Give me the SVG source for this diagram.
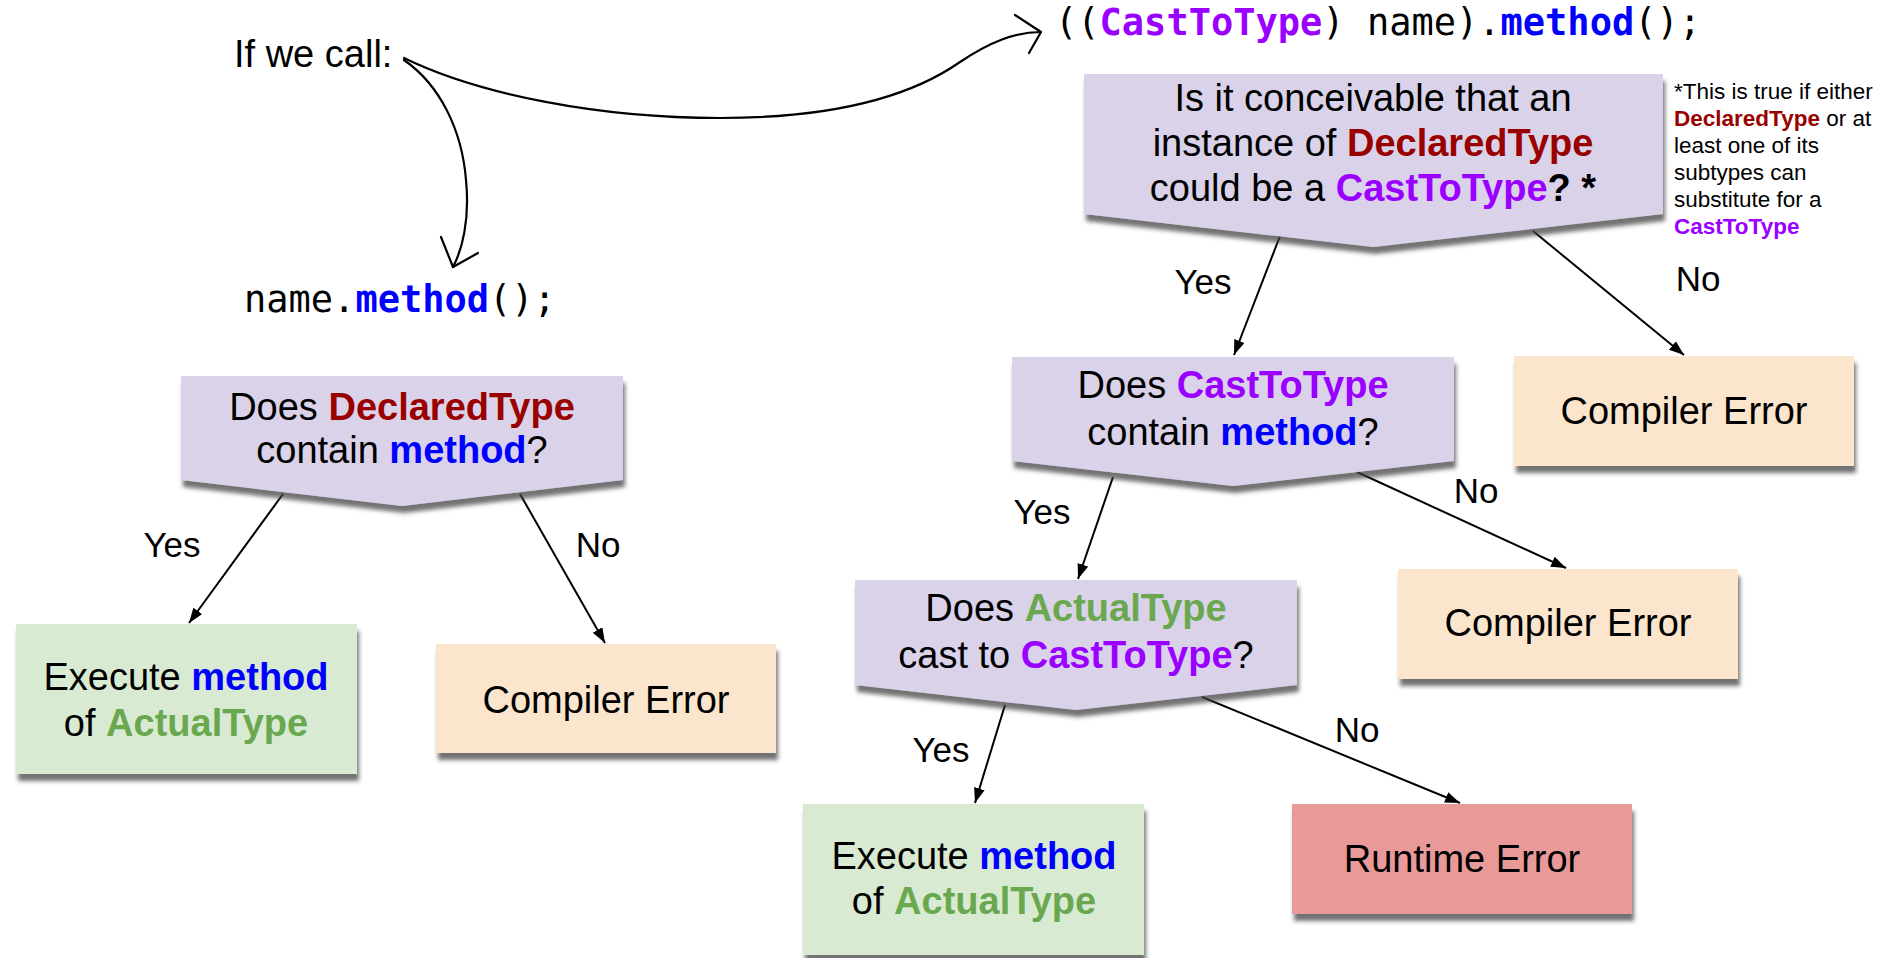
<svg xmlns="http://www.w3.org/2000/svg" width="1883" height="958" viewBox="0 0 1883 958">
<style>
text{font-family:"Liberation Sans",Arial,sans-serif;fill:#000}
.t{font-size:38px}
.lbl{font-size:35px}
.note{font-size:22.5px}
.code{font-family:"DejaVu Sans Mono","Liberation Mono",monospace;font-size:37px}
.dt{fill:#990000;font-weight:bold}
.ct{fill:#9900ff;font-weight:bold}
.me{fill:#0000ff;font-weight:bold}
.at{fill:#6aa84f;font-weight:bold}
.b{font-weight:bold}
.cct{fill:#9900ff;font-weight:bold}
.cme{fill:#0000ff;font-weight:bold}
.dec{fill:#d9d2e9}
.grn{fill:#d9ead3}
.org{fill:#fce5cd}
.red{fill:#ea9999}
.conn line{stroke:#000;stroke-width:2;marker-end:url(#ah)}
.hand{fill:none;stroke:#000;stroke-width:2.2;stroke-linecap:round;stroke-linejoin:round}
</style>
<defs>
<filter id="sh" x="-5%" y="-5%" width="115%" height="125%">
<feGaussianBlur in="SourceAlpha" stdDeviation="2"/>
<feOffset dx="2" dy="7" result="o"/>
<feFlood flood-color="#444" flood-opacity="0.75"/>
<feComposite in2="o" operator="in"/>
<feMerge><feMergeNode/><feMergeNode in="SourceGraphic"/></feMerge>
</filter>
<marker id="ah" markerUnits="userSpaceOnUse" markerWidth="16" markerHeight="12" refX="15" refY="5.5" orient="auto">
<path d="M0,0 L15,5.5 L0,11 z" fill="#000"/>
</marker>
</defs>
<rect width="1883" height="958" fill="#fff"/>

<g id="intro">
<text class="t" x="234" y="67">If we call:</text>
<text class="code" x="1055" y="35" xml:space="preserve">((<tspan class="cct">CastToType</tspan>) name).<tspan class="cme">method</tspan>();</text>
<text class="code" x="244" y="312">name.<tspan class="cme">method</tspan>();</text>
<path class="hand" d="M404,58 C480,95 600,118 720,118 C850,118 920,90 960,62 C990,42 1015,32 1041,32"/>
<path class="hand" d="M1015,15 L1041,32 L1029,53"/>
<path class="hand" d="M404,60 C440,85 462,130 466,180 C470,220 462,250 453,267"/>
<path class="hand" d="M441,237 L453,267 L478,253"/>
</g>

<g id="connectors" class="conn">
<line x1="283" y1="494" x2="189" y2="623"/>
<line x1="520" y1="494" x2="605" y2="643"/>
<line x1="1280" y1="236" x2="1234" y2="355"/>
<line x1="1533" y1="231" x2="1684" y2="355"/>
<line x1="1113" y1="477" x2="1078" y2="579"/>
<line x1="1357" y1="472" x2="1566" y2="568"/>
<line x1="1005" y1="705" x2="975" y2="803"/>
<line x1="1202" y1="697" x2="1460" y2="803"/>
</g>

<g id="labels">
<text class="lbl" x="172" y="557" text-anchor="middle">Yes</text>
<text class="lbl" x="598" y="557" text-anchor="middle">No</text>
<text class="lbl" x="1203" y="294" text-anchor="middle">Yes</text>
<text class="lbl" x="1698" y="291" text-anchor="middle">No</text>
<text class="lbl" x="1042" y="524" text-anchor="middle">Yes</text>
<text class="lbl" x="1476" y="503" text-anchor="middle">No</text>
<text class="lbl" x="941" y="762" text-anchor="middle">Yes</text>
<text class="lbl" x="1357" y="742" text-anchor="middle">No</text>
</g>

<g id="q-conceivable">
<path class="dec" filter="url(#sh)" d="M1084,74 H1663 V214 L1373,247 L1084,214 Z"/>
<text class="t" x="1373" y="111" text-anchor="middle">Is it conceivable that an</text>
<text class="t" x="1373" y="156" text-anchor="middle">instance of <tspan class="dt">DeclaredType</tspan></text>
<text class="t" x="1373" y="201" text-anchor="middle">could be a <tspan class="ct">CastToType</tspan><tspan class="b">? *</tspan></text>
</g>

<g id="footnote">
<text class="note" x="1674" y="99">*This is true if either</text>
<text class="note" x="1674" y="126"><tspan class="dt">DeclaredType</tspan> or at</text>
<text class="note" x="1674" y="153">least one of its</text>
<text class="note" x="1674" y="180">subtypes can</text>
<text class="note" x="1674" y="207">substitute for a</text>
<text class="note" x="1674" y="234"><tspan class="ct">CastToType</tspan></text>
</g>

<g id="q-declared">
<path class="dec" filter="url(#sh)" d="M181,376 H623 V480 L402,506 L181,480 Z"/>
<text class="t" x="402" y="420" text-anchor="middle">Does <tspan class="dt">DeclaredType</tspan></text>
<text class="t" x="402" y="463" text-anchor="middle">contain <tspan class="me">method</tspan>?</text>
</g>

<g id="exec-left">
<rect class="grn" filter="url(#sh)" x="16" y="624" width="341" height="150"/>
<text class="t" x="186" y="690" text-anchor="middle">Execute <tspan class="me">method</tspan></text>
<text class="t" x="186" y="736" text-anchor="middle">of <tspan class="at">ActualType</tspan></text>
</g>

<g id="compile-left">
<rect class="org" filter="url(#sh)" x="436" y="644" width="340" height="109"/>
<text class="t" x="606" y="713" text-anchor="middle">Compiler Error</text>
</g>

<g id="q-casttype">
<path class="dec" filter="url(#sh)" d="M1012,357 H1454 V461 L1233,486 L1012,461 Z"/>
<text class="t" x="1233" y="398" text-anchor="middle">Does <tspan class="ct">CastToType</tspan></text>
<text class="t" x="1233" y="445" text-anchor="middle">contain <tspan class="me">method</tspan>?</text>
</g>

<g id="compile-top">
<rect class="org" filter="url(#sh)" x="1514" y="356" width="340" height="110"/>
<text class="t" x="1684" y="424" text-anchor="middle">Compiler Error</text>
</g>

<g id="compile-mid">
<rect class="org" filter="url(#sh)" x="1398" y="569" width="340" height="110"/>
<text class="t" x="1568" y="636" text-anchor="middle">Compiler Error</text>
</g>

<g id="q-actual">
<path class="dec" filter="url(#sh)" d="M855,580 H1297 V685 L1076,710 L855,685 Z"/>
<text class="t" x="1076" y="621" text-anchor="middle">Does <tspan class="at">ActualType</tspan></text>
<text class="t" x="1076" y="668" text-anchor="middle">cast to <tspan class="ct">CastToType</tspan>?</text>
</g>

<g id="exec-bottom">
<rect class="grn" filter="url(#sh)" x="803" y="804" width="341" height="151"/>
<text class="t" x="974" y="869" text-anchor="middle">Execute <tspan class="me">method</tspan></text>
<text class="t" x="974" y="914" text-anchor="middle">of <tspan class="at">ActualType</tspan></text>
</g>

<g id="runtime">
<rect class="red" filter="url(#sh)" x="1292" y="804" width="340" height="110"/>
<text class="t" x="1462" y="872" text-anchor="middle">Runtime Error</text>
</g>
</svg>
